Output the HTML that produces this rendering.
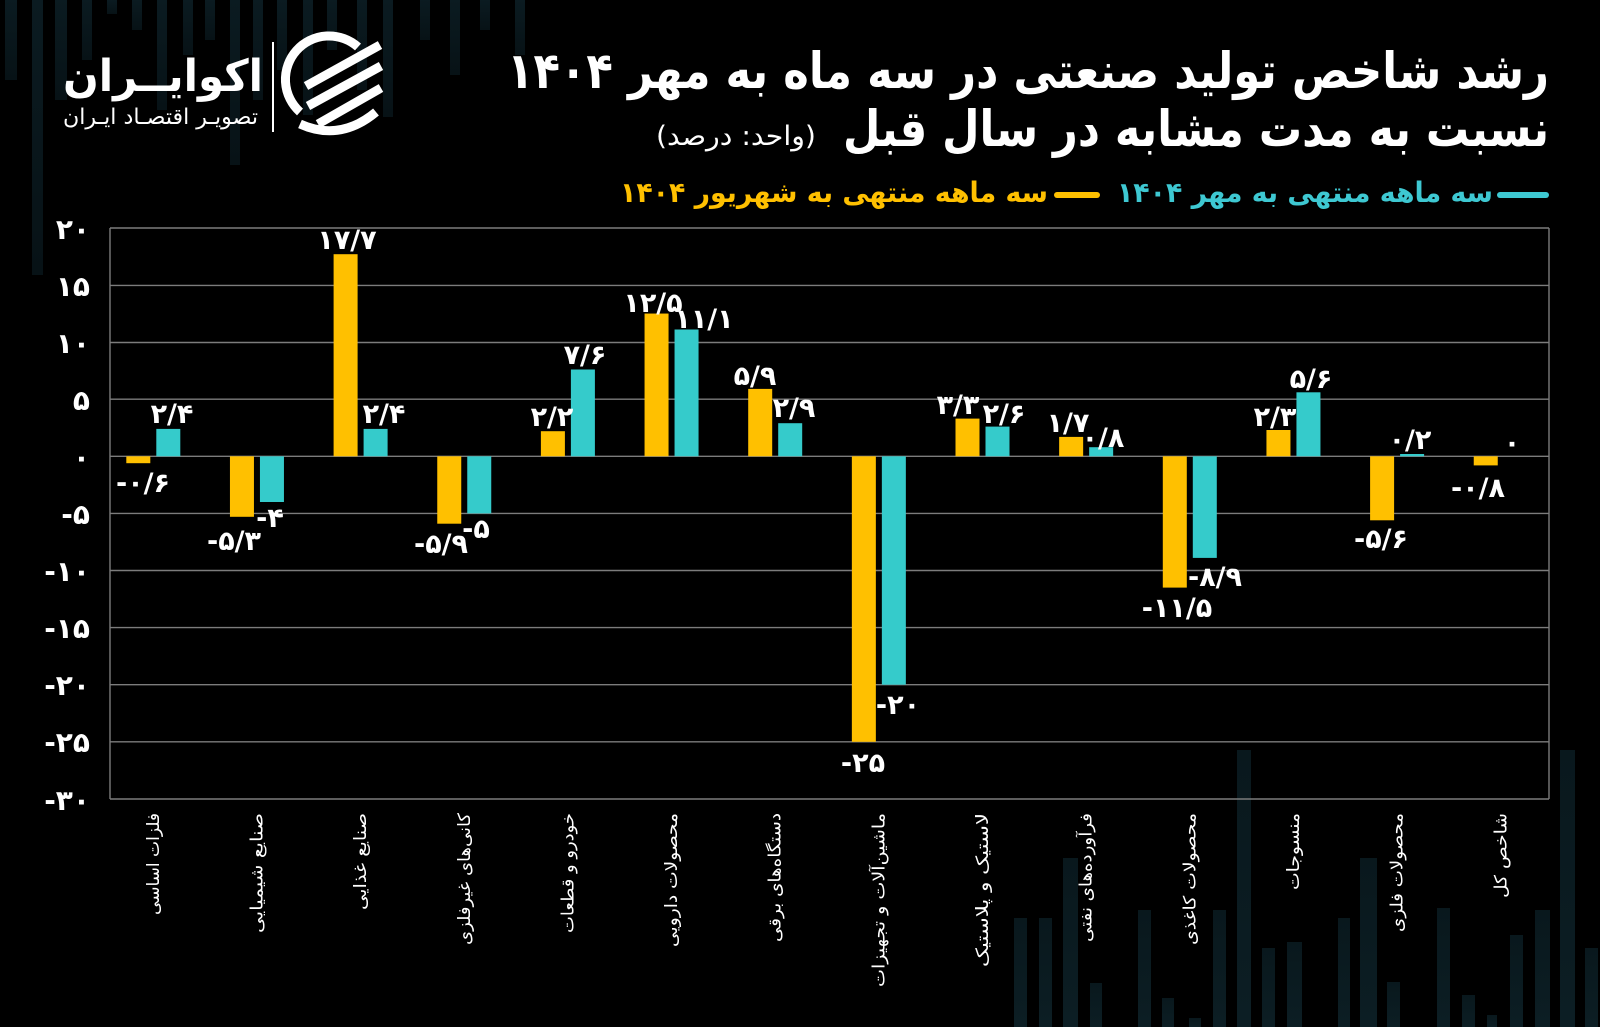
<!DOCTYPE html>
<html>
<head>
<meta charset="utf-8">
<style>
  html,body{margin:0;padding:0;background:#000;}
  svg{display:block;}
  text{font-family:"DejaVu Sans","Liberation Sans",sans-serif;}
</style>
</head>
<body>
<svg width="1600" height="1027" viewBox="0 0 1600 1027" xmlns="http://www.w3.org/2000/svg">
  <defs>
    <linearGradient id="bgt" x1="0" y1="0" x2="0" y2="1">
      <stop offset="0" stop-color="#0b1b21"/>
      <stop offset="1" stop-color="#071216"/>
    </linearGradient>
    <linearGradient id="bgb" x1="0" y1="0" x2="0" y2="1">
      <stop offset="0" stop-color="#09181d"/>
      <stop offset="1" stop-color="#0c1e24"/>
    </linearGradient>
  </defs>
  <rect x="0" y="0" width="1600" height="1027" fill="#000"/>

  <!-- decorative background bars top-left -->
  <g fill="url(#bgt)">
    <rect x="5" y="0" width="12" height="80"/>
    <rect x="32" y="0" width="11" height="275"/>
    <rect x="55" y="0" width="12" height="100"/>
    <rect x="82" y="0" width="10" height="60"/>
    <rect x="107" y="0" width="10" height="14"/>
    <rect x="132" y="0" width="10" height="30"/>
    <rect x="157" y="0" width="10" height="110"/>
    <rect x="183" y="0" width="10" height="55"/>
    <rect x="205" y="0" width="10" height="40"/>
    <rect x="230" y="0" width="10" height="165"/>
    <rect x="253" y="0" width="10" height="100"/>
    <rect x="277" y="0" width="10" height="70"/>
    <rect x="303" y="0" width="10" height="115"/>
    <rect x="327" y="0" width="10" height="50"/>
    <rect x="357" y="0" width="10" height="90"/>
    <rect x="383" y="0" width="10" height="117"/>
    <rect x="420" y="0" width="10" height="40"/>
    <rect x="450" y="0" width="10" height="75"/>
    <rect x="480" y="0" width="10" height="30"/>
    <rect x="515" y="0" width="10" height="55"/>
  </g>
  <!-- decorative background bars bottom-right -->
  <g fill="url(#bgb)">
    <rect x="1014" y="918" width="13" height="109"/>
    <rect x="1039" y="918" width="13" height="109"/>
    <rect x="1063" y="858" width="15" height="169"/>
    <rect x="1090" y="983" width="12" height="44"/>
    <rect x="1138" y="910" width="13" height="117"/>
    <rect x="1162" y="998" width="12" height="29"/>
    <rect x="1189" y="1018" width="12" height="9"/>
    <rect x="1213" y="910" width="13" height="117"/>
    <rect x="1237" y="750" width="14" height="277"/>
    <rect x="1262" y="948" width="13" height="79"/>
    <rect x="1287" y="942" width="15" height="85"/>
    <rect x="1338" y="918" width="12" height="109"/>
    <rect x="1360" y="858" width="17" height="169"/>
    <rect x="1387" y="982" width="13" height="45"/>
    <rect x="1437" y="908" width="13" height="119"/>
    <rect x="1462" y="995" width="13" height="32"/>
    <rect x="1487" y="1015" width="10" height="12"/>
    <rect x="1510" y="935" width="13" height="92"/>
    <rect x="1535" y="910" width="15" height="117"/>
    <rect x="1560" y="750" width="15" height="277"/>
    <rect x="1585" y="948" width="13" height="79"/>
  </g>

  <!-- Logo -->
  <text x="263" y="91" font-size="44" font-weight="bold" fill="#fff" text-anchor="end" textLength="200" lengthAdjust="spacingAndGlyphs">اکوایــران</text>
  <text x="258" y="124" font-size="22" fill="#fff" text-anchor="end" textLength="195" lengthAdjust="spacingAndGlyphs">تصویـر اقتصـاد ایـران</text>
  <rect x="272" y="42" width="2" height="90" fill="#fff"/>
  <g fill="none" stroke="#fff" stroke-width="9" stroke-linecap="butt">
    <path d="M358,47 A43,43 0 0 0 300,112"/>
    <path d="M306,86 L380,45"/>
    <path d="M308,106 L381,66"/>
    <path d="M318,124 L381,88"/>
    <path d="M300,124 Q340,142 376,112"/>
  </g>

  <!-- Title -->
  <text x="1549" y="88" font-size="50" font-weight="bold" fill="#fff" text-anchor="end" textLength="1042" lengthAdjust="spacingAndGlyphs">رشد شاخص تولید صنعتی در سه ماه به مهر ۱۴۰۴</text>
  <text x="1549" y="146" font-size="50" font-weight="bold" fill="#fff" text-anchor="end" textLength="706" lengthAdjust="spacingAndGlyphs">نسبت به مدت مشابه در سال قبل</text>
  <text x="816" y="145" font-size="27" fill="#fff" text-anchor="end" textLength="160" lengthAdjust="spacingAndGlyphs">(واحد: درصد)</text>

  <!-- Legend -->
  <rect x="1497" y="192" width="52" height="6" rx="3" fill="#3ec8d2"/>
  <text x="1493" y="202" font-size="28" font-weight="bold" fill="#3ec8d2" text-anchor="end" textLength="376" lengthAdjust="spacingAndGlyphs">سه ماهه منتهی به مهر ۱۴۰۴</text>
  <rect x="1054" y="192" width="46" height="6" rx="3" fill="#ffc000"/>
  <text x="1048" y="202" font-size="28" font-weight="bold" fill="#ffc000" text-anchor="end" textLength="428" lengthAdjust="spacingAndGlyphs">سه ماهه منتهی به شهریور ۱۴۰۴</text>

  <!-- Gridlines -->
  <g stroke="#7c7c7c" stroke-width="1.4">
    <line x1="110" y1="228" x2="1549" y2="228"/>
    <line x1="110" y1="285.4" x2="1549" y2="285.4"/>
    <line x1="110" y1="342.5" x2="1549" y2="342.5"/>
    <line x1="110" y1="399.2" x2="1549" y2="399.2"/>
    <line x1="110" y1="456.3" x2="1549" y2="456.3"/>
    <line x1="110" y1="513.4" x2="1549" y2="513.4"/>
    <line x1="110" y1="570.5" x2="1549" y2="570.5"/>
    <line x1="110" y1="627.6" x2="1549" y2="627.6"/>
    <line x1="110" y1="684.7" x2="1549" y2="684.7"/>
    <line x1="110" y1="741.8" x2="1549" y2="741.8"/>
    <line x1="110" y1="799" x2="1549" y2="799"/>
    <line x1="110" y1="228" x2="110" y2="799"/>
    <line x1="1549" y1="228" x2="1549" y2="799"/>
  </g>

  <!-- Y tick labels -->
  <g font-size="28" font-weight="bold" fill="#fff" text-anchor="end">
    <text x="90" y="239">۲۰</text>
    <text x="90" y="296">۱۵</text>
    <text x="90" y="353">۱۰</text>
    <text x="90" y="410">۵</text>
    <text x="90" y="467">۰</text>
    <text x="90" y="524">-۵</text>
    <text x="90" y="581">-۱۰</text>
    <text x="90" y="638">-۱۵</text>
    <text x="90" y="695">-۲۰</text>
    <text x="90" y="752">-۲۵</text>
    <text x="90" y="810">-۳۰</text>
  </g>

  <!-- Bars: yellow -->
  <g fill="#ffc000">
    <rect x="126.3" y="456.3" width="24" height="6.9"/>
    <rect x="229.95" y="456.3" width="24" height="60.5"/>
    <rect x="333.6" y="254.2" width="24" height="202.1"/>
    <rect x="437.25" y="456.3" width="24" height="67.4"/>
    <rect x="540.9" y="431.2" width="24" height="25.1"/>
    <rect x="644.55" y="313.55" width="24" height="142.75"/>
    <rect x="748.2" y="388.9" width="24" height="67.4"/>
    <rect x="851.85" y="456.3" width="24" height="285.5"/>
    <rect x="955.5" y="418.6" width="24" height="37.7"/>
    <rect x="1059.15" y="436.9" width="24" height="19.4"/>
    <rect x="1162.8" y="456.3" width="24" height="131.3"/>
    <rect x="1266.45" y="430" width="24" height="26.3"/>
    <rect x="1370.1" y="456.3" width="24" height="64"/>
    <rect x="1473.75" y="456.3" width="24" height="9.1"/>
  </g>
  <!-- Bars: cyan -->
  <g fill="#35cbcb">
    <rect x="156.3" y="428.9" width="24" height="27.4"/>
    <rect x="259.95" y="456.3" width="24" height="45.7"/>
    <rect x="363.6" y="428.9" width="24" height="27.4"/>
    <rect x="467.25" y="456.3" width="24" height="57.1"/>
    <rect x="570.9" y="369.5" width="24" height="86.8"/>
    <rect x="674.55" y="329.5" width="24" height="126.8"/>
    <rect x="778.2" y="423.2" width="24" height="33.1"/>
    <rect x="881.85" y="456.3" width="24" height="228.4"/>
    <rect x="985.5" y="426.6" width="24" height="29.7"/>
    <rect x="1089.15" y="447.2" width="24" height="9.1"/>
    <rect x="1192.8" y="456.3" width="24" height="101.6"/>
    <rect x="1296.45" y="392.3" width="24" height="64"/>
    <rect x="1400.1" y="454" width="24" height="2.3"/>
  </g>

  <!-- Data labels -->
  <g font-size="27" font-weight="bold" fill="#fff" text-anchor="middle">
    <text x="143" y="492">-۰/۶</text>
    <text x="172" y="423">۲/۴</text>
    <text x="234" y="550">-۵/۳</text>
    <text x="270" y="527">-۴</text>
    <text x="347" y="249">۱۷/۷</text>
    <text x="384" y="423">۲/۴</text>
    <text x="441" y="553">-۵/۹</text>
    <text x="476" y="538">-۵</text>
    <text x="552" y="426">۲/۲</text>
    <text x="585" y="364">۷/۶</text>
    <text x="653" y="312">۱۲/۵</text>
    <text x="704" y="328">۱۱/۱</text>
    <text x="755" y="385">۵/۹</text>
    <text x="794" y="417">۲/۹</text>
    <text x="863" y="772">-۲۵</text>
    <text x="898" y="714">-۲۰</text>
    <text x="958" y="414">۳/۳</text>
    <text x="1004" y="423">۲/۶</text>
    <text x="1068" y="432">۱/۷</text>
    <text x="1103" y="447">۰/۸</text>
    <text x="1177" y="617">-۱۱/۵</text>
    <text x="1215" y="586">-۸/۹</text>
    <text x="1275" y="426">۲/۳</text>
    <text x="1311" y="388">۵/۶</text>
    <text x="1381" y="548">-۵/۶</text>
    <text x="1410" y="449">۰/۲</text>
    <text x="1478" y="497">-۰/۸</text>
    <text x="1512" y="452">۰</text>
  </g>

  <!-- X category labels (rotated) -->
  <g font-size="17" fill="#fff" text-anchor="end">
    <text transform="translate(159,813) rotate(-90)" textLength="102" lengthAdjust="spacingAndGlyphs">فلزات اساسی</text>
    <text transform="translate(262.5,813) rotate(-90)" textLength="120" lengthAdjust="spacingAndGlyphs">صنایع شیمیایی</text>
    <text transform="translate(366,813) rotate(-90)" textLength="97" lengthAdjust="spacingAndGlyphs">صنایع غذایی</text>
    <text transform="translate(469.8,813) rotate(-90)" textLength="132" lengthAdjust="spacingAndGlyphs">کانی‌های غیرفلزی</text>
    <text transform="translate(573.4,813) rotate(-90)" textLength="120" lengthAdjust="spacingAndGlyphs">خودرو و قطعات</text>
    <text transform="translate(677.1,813) rotate(-90)" textLength="134" lengthAdjust="spacingAndGlyphs">محصولات دارویی</text>
    <text transform="translate(780.7,813) rotate(-90)" textLength="129" lengthAdjust="spacingAndGlyphs">دستگاه‌های برقی</text>
    <text transform="translate(884.4,813) rotate(-90)" textLength="174" lengthAdjust="spacingAndGlyphs">ماشین‌آلات و تجهیزات</text>
    <text transform="translate(988,813) rotate(-90)" textLength="154" lengthAdjust="spacingAndGlyphs">لاستیک و پلاستیک</text>
    <text transform="translate(1091.7,813) rotate(-90)" textLength="129" lengthAdjust="spacingAndGlyphs">فرآورده‌های نفتی</text>
    <text transform="translate(1195.3,813) rotate(-90)" textLength="132" lengthAdjust="spacingAndGlyphs">محصولات کاغذی</text>
    <text transform="translate(1299,813) rotate(-90)" textLength="77" lengthAdjust="spacingAndGlyphs">منسوجات</text>
    <text transform="translate(1402.6,813) rotate(-90)" textLength="119" lengthAdjust="spacingAndGlyphs">محصولات فلزی</text>
    <text transform="translate(1506.3,813) rotate(-90)" textLength="85" lengthAdjust="spacingAndGlyphs">شاخص کل</text>
  </g>
</svg>
</body>
</html>
